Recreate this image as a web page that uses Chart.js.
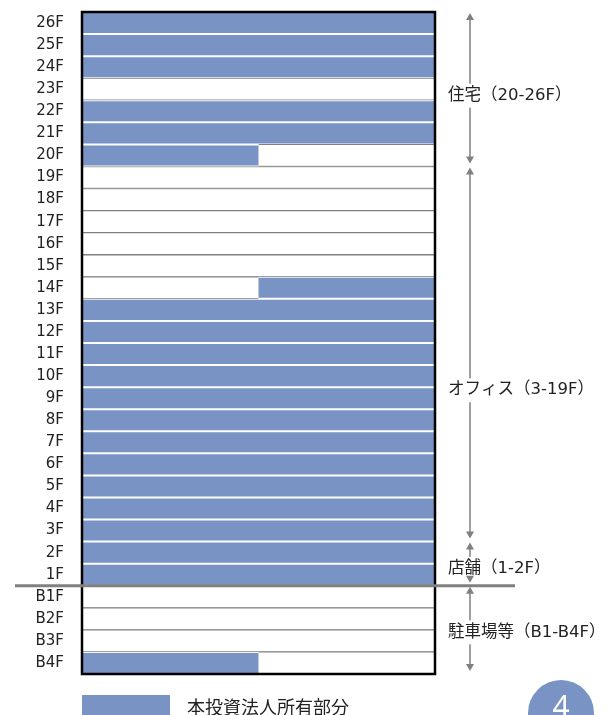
<!DOCTYPE html>
<html lang="ja">
<head>
<meta charset="utf-8" />
<title>フロア構成</title>
<script src="https://cdn.jsdelivr.net/npm/chart.js"></script>
<style>
  html, body { margin: 0; padding: 0; background: #ffffff; }
  #wrap { width: 607px; height: 715px; position: relative; }
</style>
</head>
<body>
<div id="wrap"><canvas id="grafico_floors"></canvas></div>
<script>
// フロア（上から順）
const floors = ["26F", "25F", "24F", "23F", "22F", "21F", "20F", "19F", "18F", "17F", "16F", "15F", "14F",
  "13F", "12F", "11F", "10F", "9F", "8F", "7F", "6F", "5F", "4F", "3F", "2F", "1F", "B1F", "B2F", "B3F", "B4F"];

// 本投資法人所有部分（0-100 の横位置）、null = なし
const ownedFrom = [0, 0, 0, null, 0, 0, 0, null, null, null, null, null, 50,
  0, 0, 0, 0, 0, 0, 0, 0, 0, 0, 0, 0, 0, null, null, null, 0];
const ownedTo = [100, 100, 100, null, 100, 100, 50, null, null, null, null, null, 100,
  100, 100, 100, 100, 100, 100, 100, 100, 100, 100, 100, 100, 100, null, null, null, 50];

// 用途区分（上端フロア・下端フロア）
const zoneNames = ["住宅（20-26F）", "オフィス（3-19F）", "店舗（1-2F）", "駐車場等（B1-B4F）"];
const zoneTop = ["26F", "19F", "2F", "B1F"];
const zoneBottom = ["20F", "3F", "1F", "B4F"];

const legendLabel = "本投資法人所有部分";
const pageNumber = "4";

const BLUE = "#7993c4";
const GRAY = "#808080";

// 所有部分以外（白いセル）
const ownedData = floors.map((f, i) => ownedFrom[i] === null ? null : [ownedFrom[i], ownedTo[i]]);
const otherData = floors.map((f, i) => {
    if (ownedFrom[i] === null) return [0, 100];
    if (ownedFrom[i] > 0) return [0, ownedFrom[i]];
    if (ownedTo[i] < 100) return [ownedTo[i], 100];
    return null;
});

// 枠・地上線・用途の矢印・凡例
const decoracoes = {
    id: "decoracoes",
    afterDraw(chart) {
        const ctx = chart.ctx;
        const area = chart.chartArea;
        const y = chart.scales.y;
        const rowH = (area.bottom - area.top) / floors.length;
        const rowTop = (f) => y.getPixelForValue(floors.indexOf(f)) - rowH / 2;
        const rowBottom = (f) => y.getPixelForValue(floors.indexOf(f)) + rowH / 2;

        ctx.save();
        // 建物の枠
        ctx.strokeStyle = "#000000";
        ctx.lineWidth = 2.5;
        ctx.strokeRect(area.left, area.top, area.right - area.left, area.bottom - area.top);

        // 地上線（1F と B1F の間）
        const gl = rowBottom("1F");
        ctx.strokeStyle = GRAY;
        ctx.lineWidth = 3;
        ctx.beginPath();
        ctx.moveTo(15, gl);
        ctx.lineTo(515, gl);
        ctx.stroke();

        // 用途の矢印
        const ax = 470;
        const labelPos = [0.55, 0.6, 0.65, 0.54];
        ctx.font = "16.5px 'DejaVu Sans', 'Noto Sans CJK JP'";
        ctx.textBaseline = "middle";
        ctx.textAlign = "left";
        zoneNames.forEach((name, k) => {
            const t = rowTop(zoneTop[k]) + 1;
            const b = rowBottom(zoneBottom[k]) - 3;
            const ty = t + (b - t) * labelPos[k];
            ctx.strokeStyle = GRAY;
            ctx.fillStyle = GRAY;
            ctx.lineWidth = 1.5;
            ctx.beginPath();
            ctx.moveTo(ax, t + 6);
            ctx.lineTo(ax, ty - 12);
            ctx.moveTo(ax, ty + 12);
            ctx.lineTo(ax, b - 6);
            ctx.stroke();
            ctx.beginPath();
            ctx.moveTo(ax, t);
            ctx.lineTo(ax - 4, t + 7);
            ctx.lineTo(ax + 4, t + 7);
            ctx.closePath();
            ctx.moveTo(ax, b);
            ctx.lineTo(ax - 4, b - 7);
            ctx.lineTo(ax + 4, b - 7);
            ctx.closePath();
            ctx.fill();
            ctx.fillStyle = "#222222";
            ctx.fillText(name, 448, ty);
        });

        // 凡例
        ctx.fillStyle = BLUE;
        ctx.fillRect(area.left, 695, 88, 20);
        ctx.fillStyle = "#222222";
        ctx.font = "18px 'Noto Sans CJK JP'";
        ctx.fillText(legendLabel, 187, 707);

        // ページ番号
        ctx.fillStyle = BLUE;
        ctx.beginPath();
        ctx.arc(561, 713, 33, 0, Math.PI * 2);
        ctx.fill();
        ctx.fillStyle = "#ffffff";
        ctx.font = "30px 'Noto Sans'";
        ctx.textAlign = "center";
        ctx.fillText(pageNumber, 561, 708);
        ctx.restore();
    }
};

new Chart(document.getElementById("grafico_floors"), {
    type: "bar",
    data: {
        labels: floors,
        datasets: [{
            label: legendLabel,
            data: ownedData,
            backgroundColor: BLUE,
            borderWidth: 0,
            barPercentage: 0.91,
            categoryPercentage: 1,
        }, {
            label: "その他",
            data: otherData,
            backgroundColor: "#ffffff",
            borderColor: GRAY,
            borderWidth: { top: 1, bottom: 1, left: 0, right: 0 },
            borderSkipped: false,
            barPercentage: 1,
            categoryPercentage: 1,
        }],
    },
    options: {
        indexAxis: "y",
        responsive: true,
        maintainAspectRatio: false,
        animation: false,
        grouped: false,
        layout: { padding: { top: 12, right: 172, bottom: 41, left: 0 } },
        plugins: {
            legend: { display: false },
            tooltip: { enabled: false },
        },
        scales: {
            x: { display: false, min: 0, max: 100 },
            y: {
                grid: { display: false, drawTicks: false },
                border: { display: false },
                ticks: { color: "#222222", padding: 18, font: { family: "DejaVu Sans", size: 15 } },
                afterFit(scale) {
                    scale.width = 82;
                    scale.paddingTop = 0;
                    scale.paddingBottom = 0;
                },
            },
        },
    },
    plugins: [decoracoes],
});
</script>
</body>
</html>
